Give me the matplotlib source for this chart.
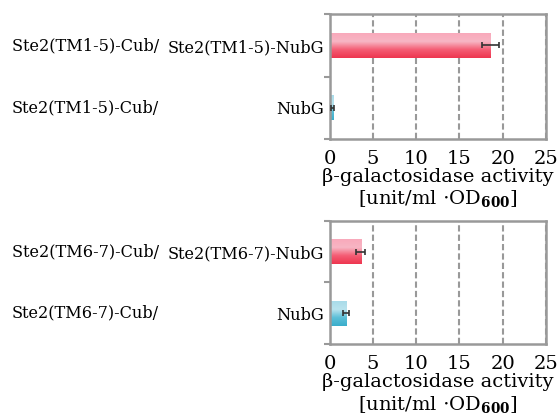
import numpy as np
import matplotlib
matplotlib.use("Agg")
import matplotlib.pyplot as plt
from matplotlib.colors import LinearSegmentedColormap
from matplotlib.transforms import blended_transform_factory

# data
panels = ["TM1-5", "TM6-7"]
cub_labels = [["Ste2(TM1-5)-Cub/ ", "Ste2(TM1-5)-Cub/"],
              ["Ste2(TM6-7)-Cub/ ", "Ste2(TM6-7)-Cub/"]]
nub_labels = [["Ste2(TM1-5)-NubG", "NubG"],
              ["Ste2(TM6-7)-NubG", "NubG"]]
activity = [[18.6, 0.35], [3.6, 1.9]]
activity_err = [[1.0, 0.2], [0.55, 0.35]]
xticks = [0, 5, 10, 15, 20, 25]

plt.rcParams['font.family'] = ['DejaVu Serif']
plt.rcParams['mathtext.fontset'] = 'dejavuserif'

red_cmap = LinearSegmentedColormap.from_list("red", ["#f9a9bb", "#f7b6c4", "#f45d74", "#ee3650"])
cyan_cmap = LinearSegmentedColormap.from_list("cyan", ["#a9dbe9", "#b9e3ee", "#5cbfd8", "#3aaecb"])
cmaps = [red_cmap, cyan_cmap]
gray = "#999999"


def gradient_bars(ax, bars):
    """Fill each bar with a vertical gloss gradient (light on top)."""
    grad = np.linspace(0, 1, 64).reshape(-1, 1)
    for bar, cmap in zip(bars, cmaps):
        x0, y0 = bar.get_x(), bar.get_y()
        w, h = bar.get_width(), bar.get_height()
        im = ax.imshow(grad, cmap=cmap, aspect='auto', origin='lower',
                       extent=[x0, x0 + w, y0, y0 + h], zorder=2)
        im.set_clip_path(bar)
        bar.set_facecolor('none')


fig = plt.figure(figsize=(5.59, 4.16), dpi=100)
positions = [[0.5895, 0.6659, 0.387, 0.2997], [0.5895, 0.1731, 0.387, 0.2957]]

for p in range(len(panels)):
    ax = fig.add_axes(positions[p])
    y = np.arange(2)
    bars = ax.barh(y, activity[p], height=0.4, color='none', edgecolor='none', zorder=2)
    gradient_bars(ax, bars)
    ax.errorbar(activity[p], y, xerr=activity_err[p], fmt='none', ecolor='#333333',
                elinewidth=1.2, capsize=2.5, capthick=1.2, zorder=3)
    ax.set_xlim(0, 25)
    ax.set_ylim(1.5, -0.5)
    ax.set_xticks(xticks)
    ax.set_xticklabels([str(t) for t in xticks], fontsize=14)
    ax.tick_params(axis='x', length=0, pad=8)
    ax.set_yticks(y)
    ax.set_yticklabels(nub_labels[p], fontsize=11.6)
    ax.set_yticks([-0.5, 0.5, 1.5], minor=True)
    ax.tick_params(axis='y', which='major', length=0, pad=4)
    ax.tick_params(axis='y', which='minor', length=4, width=1.5, color=gray)

    # left-hand "Cub" part of each label, aligned at the figure edge
    trans = blended_transform_factory(fig.transFigure, ax.transData)
    for yy, lab in zip(y, cub_labels[p]):
        ax.text(12 / 559, yy, lab, transform=trans, ha='left', va='center', fontsize=11.6)

    ax.xaxis.grid(True, linestyle=(0, (3, 1.5)), color=gray, linewidth=1.5, zorder=1)
    ax.set_axisbelow(True)
    for s in ax.spines.values():
        s.set_color(gray)
        s.set_linewidth(1.8)
    ax.set_xlabel("β-galactosidase activity\n[unit/ml $\\cdot$OD$_{\\mathbf{600}}$]",
                  fontsize=14, linespacing=1.15, labelpad=0)

fig.savefig("out.png", dpi=100)
